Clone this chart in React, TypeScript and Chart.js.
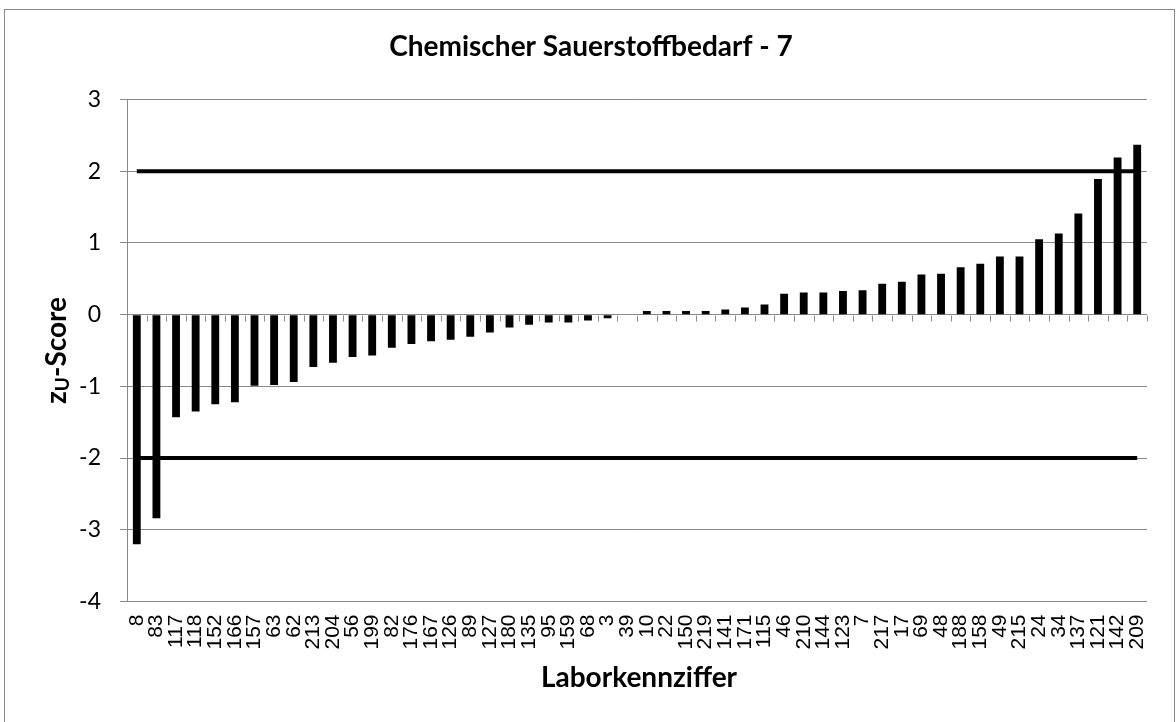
import React, { useEffect, useRef } from "react";
import { Chart, registerables } from "chart.js";

Chart.register(...registerables);

const chartTitle = "Chemischer Sauerstoffbedarf - 7";
const xAxisTitle = "Laborkennziffer";
const yAxisTitleMain = "z";
const yAxisTitleSub = "U";
const yAxisTitleRest = "-Score";

const labCodes = [
  "8", "83", "117", "118", "152", "166", "157", "63", "62", "213", "204", "56", "199",
  "82", "176", "167", "126", "89", "127", "180", "135", "95", "159", "68", "3", "39",
  "10", "22", "150", "219", "141", "171", "115", "46", "210", "144", "123", "7", "217",
  "17", "69", "48", "188", "158", "49", "215", "24", "34", "137", "121", "142", "209",
];

const zScores = [
  -3.2, -2.84, -1.43, -1.35, -1.25, -1.22, -0.99, -0.98, -0.94, -0.73, -0.67, -0.59, -0.57,
  -0.46, -0.41, -0.37, -0.35, -0.31, -0.25, -0.18, -0.14, -0.11, -0.11, -0.08, -0.05, 0,
  0.05, 0.05, 0.05, 0.05, 0.07, 0.1, 0.14, 0.29, 0.31, 0.31, 0.33, 0.34, 0.43,
  0.46, 0.56, 0.57, 0.66, 0.71, 0.81, 0.81, 1.05, 1.13, 1.41, 1.89, 2.19, 2.37,
];

const upperLimit = 2;
const lowerLimit = -2;
const yMin = -4;
const yMax = 3;
const yStep = 1;

const GRID = "#898989";

const decorPlugin = {
  id: "decor",
  beforeDatasetsDraw(chart: any) {
    const { ctx, chartArea, scales } = chart;
    const y0 = scales.y.getPixelForValue(0);
    ctx.save();
    ctx.strokeStyle = GRID;
    ctx.lineWidth = 1;
    const n = labCodes.length;
    for (let i = 0; i <= n; i++) {
      const px = Math.round(chartArea.left + ((chartArea.right - chartArea.left) * i) / n) + 0.5;
      ctx.beginPath();
      ctx.moveTo(px, Math.round(y0) + 0.5);
      ctx.lineTo(px, Math.round(y0) + 6.5);
      ctx.stroke();
    }
    ctx.restore();
  },
  afterDraw(chart: any) {
    const { ctx, chartArea } = chart;
    ctx.save();
    ctx.fillStyle = "#000";
    ctx.font = "bold 28px Lato";
    ctx.textAlign = "center";
    ctx.textBaseline = "alphabetic";
    ctx.fillText(chartTitle, 591, 56);
    ctx.fillText(xAxisTitle, (chartArea.left + chartArea.right) / 2 + 2, 687);
    const cy = (chartArea.top + chartArea.bottom) / 2;
    ctx.translate(66, cy);
    ctx.rotate(-Math.PI / 2);
    const mainFont = "bold 28px Lato";
    const subFont = "bold 19px Lato";
    ctx.font = mainFont;
    const w1 = ctx.measureText(yAxisTitleMain).width;
    const w3 = ctx.measureText(yAxisTitleRest).width;
    ctx.font = subFont;
    const w2 = ctx.measureText(yAxisTitleSub).width;
    const total = w1 + w2 + w3;
    let sx = -total / 2;
    ctx.textAlign = "left";
    ctx.font = mainFont;
    ctx.fillText(yAxisTitleMain, sx, 0);
    sx += w1;
    ctx.font = subFont;
    ctx.fillText(yAxisTitleSub, sx, 3);
    sx += w2;
    ctx.font = mainFont;
    ctx.fillText(yAxisTitleRest, sx, 0);
    ctx.restore();
  },
};

export default function App() {
  const ref = useRef<HTMLCanvasElement | null>(null);

  useEffect(() => {
    if (!ref.current) return;
    const chart = new Chart(ref.current, {
      type: "bar",
      data: {
        labels: labCodes,
        datasets: [
          {
            type: "line",
            data: [
              { x: labCodes[0], y: upperLimit },
              { x: labCodes[labCodes.length - 1], y: upperLimit },
            ] as any,
            borderColor: "#000",
            borderWidth: 4,
            pointRadius: 0,
            fill: false,
            order: 0,
          } as any,
          {
            type: "line",
            data: [
              { x: labCodes[0], y: lowerLimit },
              { x: labCodes[labCodes.length - 1], y: lowerLimit },
            ] as any,
            borderColor: "#000",
            borderWidth: 4,
            pointRadius: 0,
            fill: false,
            order: 0,
          } as any,
          {
            type: "bar",
            data: zScores,
            backgroundColor: "#000",
            borderWidth: 0,
            categoryPercentage: 1,
            barPercentage: 0.4,
            order: 1,
          } as any,
        ],
      },
      options: {
        animation: false,
        responsive: false,
        devicePixelRatio: 1,
        layout: { padding: { left: 0, right: 29, top: 99.5, bottom: 0 } },
        plugins: {
          legend: { display: false },
          tooltip: { enabled: false },
          title: { display: false },
        },
        scales: {
          x: {
            type: "category",
            offset: true,
            grid: { display: false, drawTicks: false },
            border: { display: false },
            ticks: {
              autoSkip: false,
              maxRotation: 90,
              minRotation: 90,
              padding: 13,
              color: "#000",
              font: { family: "Liberation Sans", size: 21 },
            },
            afterFit: (s: any) => {
              s.height = 120.5;
            },
          },
          y: {
            min: yMin,
            max: yMax,
            grid: { color: GRID, tickLength: 7, lineWidth: 1 },
            border: { display: true, color: GRID, width: 1 },
            ticks: {
              stepSize: yStep,
              padding: 19,
              color: "#000",
              font: { family: "Lato", size: 23 },
            },
            afterFit: (s: any) => {
              s.width = 127;
            },
          },
        },
      },
      plugins: [decorPlugin],
    } as any);
    return () => chart.destroy();
  }, []);

  return (
    <div style={{ position: "fixed", left: 0, top: 0, width: 1176, height: 722, background: "#fff" }}>
      <div
        style={{
          position: "absolute",
          left: 4,
          top: 9,
          width: 1171,
          height: 720,
          border: "1px solid #898989",
          boxSizing: "border-box",
        }}
      />
      <canvas ref={ref} width={1176} height={722} style={{ position: "absolute", left: 0, top: 0 }} />
    </div>
  );
}
